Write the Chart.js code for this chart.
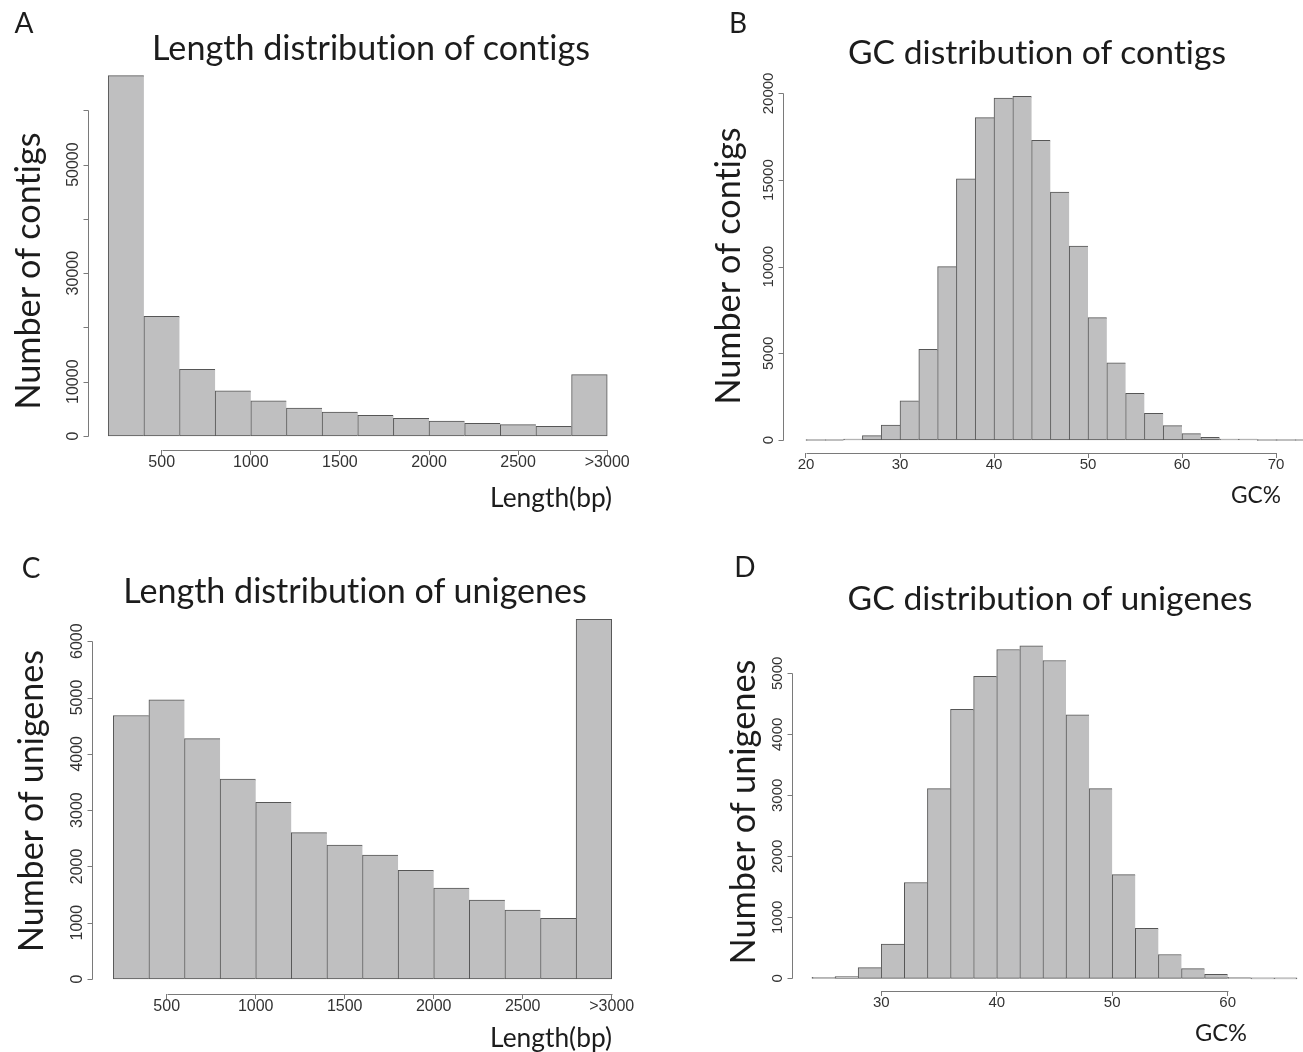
<!DOCTYPE html>
<html>
<head>
<meta charset="utf-8">
<script src="https://cdn.jsdelivr.net/npm/chart.js@4.4.1/dist/chart.umd.min.js"></script>
<style>
  html, body { margin: 0; padding: 0; background: #fff; }
  body { width: 1303px; height: 1052px; position: relative; overflow: hidden; font-family: Lato, "Open Sans", sans-serif; color: #1c1c1c; }
  .panel { position: absolute; }
  .txt { position: absolute; white-space: nowrap; line-height: 1; transform: translate(-50%, -50%);
         font-variant-ligatures: none; font-feature-settings: "liga" 0, "clig" 0; }
  .rot { transform: translate(-50%, -50%) rotate(-90deg); }
</style>
</head>
<body>

<div class="panel" style="left:0;top:0"><canvas id="chart_a" width="651" height="520"></canvas></div>
<div class="panel" style="left:650px;top:0"><canvas id="chart_b" width="653" height="520"></canvas></div>
<div class="panel" style="left:0;top:520px"><canvas id="chart_c" width="651" height="532"></canvas></div>
<div class="panel" style="left:650px;top:520px"><canvas id="chart_d" width="653" height="532"></canvas></div>

<!-- panel letters, titles, axis titles -->
<div class="txt" style="left:24px;top:22px;font-size:28px">A</div>
<div class="txt" style="left:738px;top:22px;font-size:28px">B</div>
<div class="txt" style="left:31px;top:567px;font-size:28px">C</div>
<div class="txt" style="left:745px;top:566px;font-size:28px">D</div>

<div class="txt" data-w="438" style="left:371px;top:47px">Length distribution of contigs</div>
<div class="txt" data-w="378" style="left:1037px;top:52px">GC distribution of contigs</div>
<div class="txt" data-w="464" style="left:355px;top:590px">Length distribution of unigenes</div>
<div class="txt" data-w="405" style="left:1050px;top:598px">GC distribution of unigenes</div>

<div class="txt" data-w="122" style="left:551px;top:497px">Length(bp)</div>
<div class="txt" data-w="50" style="left:1256px;top:495px">GC%</div>
<div class="txt" data-w="122" style="left:551px;top:1037px">Length(bp)</div>
<div class="txt" data-w="52" style="left:1221px;top:1033px">GC%</div>

<div class="txt rot" data-w="277" style="left:27px;top:271px">Number of contigs</div>
<div class="txt rot" data-w="277" style="left:727px;top:266px">Number of contigs</div>
<div class="txt rot" data-w="302" style="left:30px;top:801px">Number of unigenes</div>
<div class="txt rot" data-w="305" style="left:742px;top:812px">Number of unigenes</div>

<script>
// length histograms: 200 bp bins (centres), the last bin collects >2800 bp
const lengthBins = [300, 500, 700, 900, 1100, 1300, 1500, 1700, 1900, 2100, 2300, 2500, 2700, 2900];
const contigLengthCounts = [66400, 22050, 12300, 8300, 6500, 5160, 4420, 3800, 3260, 2760, 2340, 2100, 1790, 11300];
const unigeneLengthCounts = [4680, 4960, 4270, 3550, 3140, 2600, 2380, 2200, 1930, 1615, 1400, 1225, 1077, 6390];

// GC% histograms: 2% bins (centres)
const contigGcBins = [21, 23, 25, 27, 29, 31, 33, 35, 37, 39, 41, 43, 45, 47, 49, 51, 53, 55, 57, 59, 61, 63, 65, 67, 69, 71, 73];
const contigGcCounts = [0, 0, 40, 250, 860, 2260, 5230, 10010, 15070, 18600, 19730, 19830, 17300, 14310, 11190, 7060, 4460, 2700, 1540, 830, 370, 150, 40, 20, 0, 0, 0];
const unigeneGcBins = [25, 27, 29, 31, 33, 35, 37, 39, 41, 43, 45, 47, 49, 51, 53, 55, 57, 59, 61, 63, 65];
const unigeneGcCounts = [11, 30, 175, 560, 1570, 3110, 4410, 4950, 5390, 5450, 5210, 4320, 3110, 1700, 820, 390, 160, 65, 15, 0, 0];

// axis ticks and labels
const lengthTicks = [500, 1000, 1500, 2000, 2500, 3000];
const lengthTickLabels = ['500', '1000', '1500', '2000', '2500', '>3000'];
const contigGcTicks = [20, 30, 40, 50, 60, 70];
const unigeneGcTicks = [30, 40, 50, 60];

const contigLengthYTicks = [0, 10000, 20000, 30000, 40000, 50000, 60000];
const contigLengthYLabels = ['0', '10000', '', '30000', '', '50000', ''];
const contigGcYTicks = [0, 5000, 10000, 15000, 20000];
const unigeneLengthYTicks = [0, 1000, 2000, 3000, 4000, 5000, 6000];
const unigeneGcYTicks = [0, 1000, 2000, 3000, 4000, 5000];

const BAR_FILL = '#bfbfc0';
const BAR_EDGE = '#565656';
const AXIS_COLOR = '#7a7a7a';
const TICK_TEXT = '#333333';
const TICK_FONT = '"Liberation Sans", Arial, sans-serif';

// fit the big text to the widths it has in the figure
document.querySelectorAll('.txt[data-w]').forEach(el => {
    el.style.fontSize = '100px';
    const w = el.offsetWidth;
    el.style.fontSize = (100 * Number(el.dataset.w) / w).toFixed(2) + 'px';
});

// R style axes: lines only from first to last tick, y labels turned along the axis
const rAxes = {
    id: 'rAxes',
    afterDraw(chart, args, opts) {
        const ctx = chart.ctx;
        const area = chart.chartArea;
        const xs = chart.scales.x;
        const ys = chart.scales.y;
        ctx.save();
        ctx.strokeStyle = AXIS_COLOR;
        ctx.lineWidth = 1;

        // x axis line
        const xt = opts.xTicks;
        const yb = Math.round(area.bottom) + 0.5;
        ctx.beginPath();
        ctx.moveTo(Math.round(xs.getPixelForValue(xt[0])) + 0.5, yb);
        ctx.lineTo(Math.round(xs.getPixelForValue(xt[xt.length - 1])) + 0.5, yb);
        ctx.stroke();

        // y axis line + ticks
        const yt = opts.yTicks;
        const xl = Math.round(area.left) - 0.5;
        ctx.beginPath();
        ctx.moveTo(xl, Math.round(ys.getPixelForValue(yt[0])) + 0.5);
        ctx.lineTo(xl, Math.round(ys.getPixelForValue(yt[yt.length - 1])) + 0.5);
        yt.forEach(v => {
            const y = Math.round(ys.getPixelForValue(v)) + 0.5;
            ctx.moveTo(xl, y);
            ctx.lineTo(xl - 5, y);
        });
        ctx.stroke();

        ctx.fillStyle = TICK_TEXT;
        ctx.font = opts.fontSize + 'px ' + TICK_FONT;
        ctx.textAlign = 'center';
        ctx.textBaseline = 'alphabetic';
        yt.forEach((v, i) => {
            const label = opts.yLabels ? opts.yLabels[i] : String(v);
            if (!label) return;
            ctx.save();
            ctx.translate(area.left - 11, ys.getPixelForValue(v));
            ctx.rotate(-Math.PI / 2);
            ctx.fillText(label, 0, 0);
            ctx.restore();
        });
        ctx.restore();
    }
};

function histDataset(bins, counts) {
    const last = bins.length - 1;
    return {
        data: bins.map((b, i) => ({x: b, y: counts[i]})),
        backgroundColor: BAR_FILL,
        borderColor: BAR_EDGE,
        borderWidth: c => ({top: 1, left: 1, bottom: 1, right: c.dataIndex === last ? 1 : 0}),
        borderSkipped: false,
        minBarLength: 1,
        barPercentage: 1,
        categoryPercentage: 1
    };
}

function makeHist(id, cfg) {
    const ctx = document.getElementById(id);
    return new Chart(ctx, {
        type: 'bar',
        data: {datasets: [histDataset(cfg.bins, cfg.counts)]},
        options: {
            responsive: false,
            animation: false,
            layout: {padding: cfg.padding},
            plugins: {
                legend: {display: false},
                tooltip: {enabled: false},
                rAxes: {xTicks: cfg.xTicks, yTicks: cfg.yTicks, yLabels: cfg.yLabels, fontSize: cfg.fontSize}
            },
            scales: {
                x: {
                    type: 'linear',
                    min: cfg.xRange[0],
                    max: cfg.xRange[1],
                    offset: false,
                    grid: {display: true, offset: false, drawOnChartArea: false, drawTicks: true, tickLength: 5, color: AXIS_COLOR},
                    border: {display: false},
                    ticks: {
                        autoSkip: false,
                        maxRotation: 0,
                        padding: -2,
                        color: TICK_TEXT,
                        font: {family: TICK_FONT, size: cfg.fontSize},
                        callback: (v, i) => cfg.xLabels ? cfg.xLabels[i] : String(cfg.xTicks[i])
                    },
                    afterBuildTicks: s => { s.ticks = cfg.xTicks.map(v => ({value: v})); },
                    afterFit: s => { s.height = 40; }
                },
                y: {
                    display: false,
                    min: cfg.yRange[0],
                    max: cfg.yRange[1]
                }
            }
        },
        plugins: [rAxes]
    });
}

// A
makeHist('chart_a', {
    bins: lengthBins, counts: contigLengthCounts,
    xTicks: lengthTicks, xLabels: lengthTickLabels,
    yTicks: contigLengthYTicks, yLabels: contigLengthYLabels,
    xRange: [92, 3111], yRange: [-2580, 69270],
    padding: {left: 89, right: 24, top: 60, bottom: 30},
    fontSize: 16
});

// B
makeHist('chart_b', {
    bins: contigGcBins, counts: contigGcCounts,
    xTicks: contigGcTicks,
    yTicks: contigGcYTicks,
    xRange: [17.66, 72.87], yRange: [-750, 21930],
    padding: {left: 134, right: 0, top: 60, bottom: 27},
    fontSize: 15
});

// C
makeHist('chart_c', {
    bins: lengthBins, counts: unigeneLengthCounts,
    xTicks: lengthTicks, xLabels: lengthTickLabels,
    yTicks: unigeneLengthYTicks,
    xRange: [86, 3114], yRange: [-266, 6732],
    padding: {left: 93, right: 19, top: 80, bottom: 18},
    fontSize: 16
});

// D
makeHist('chart_d', {
    bins: unigeneGcBins, counts: unigeneGcCounts,
    xTicks: unigeneGcTicks,
    yTicks: unigeneGcYTicks,
    xRange: [22.36, 66.26], yRange: [-208, 6202],
    padding: {left: 143, right: 3, top: 80, bottom: 21},
    fontSize: 15
});
</script>
</body>
</html>
